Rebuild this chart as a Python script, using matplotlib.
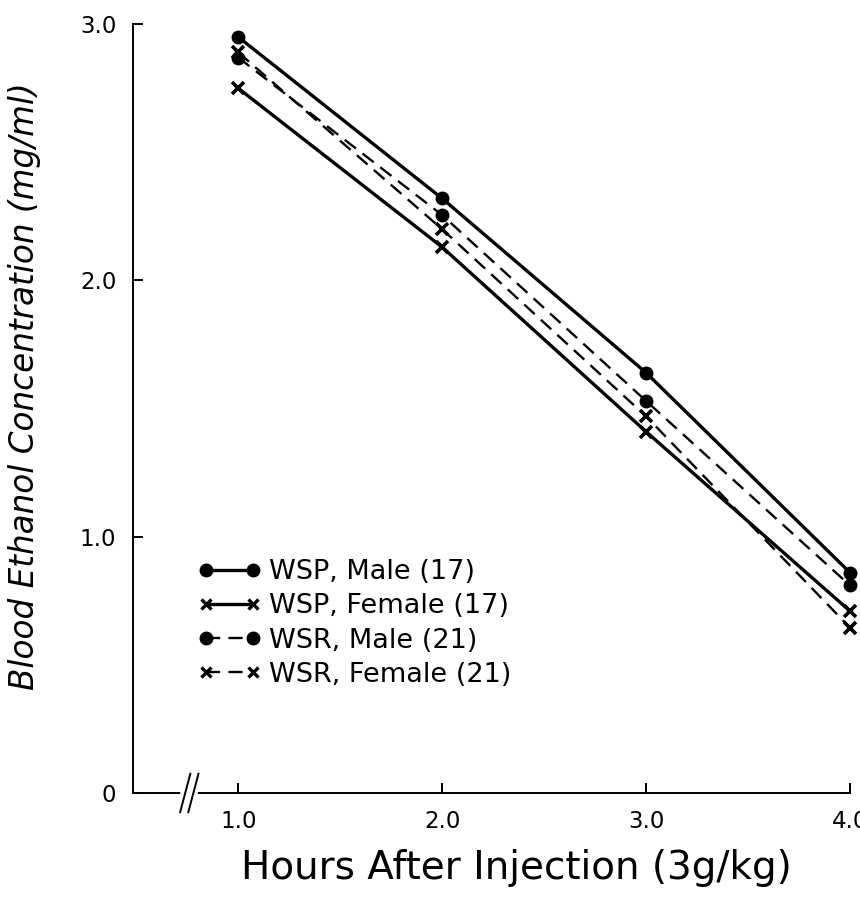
import matplotlib.pyplot as plt

hours = [1.0, 2.0, 3.0, 4.0]
wsp_male = [2.95, 2.32, 1.64, 0.86]
wsp_female = [2.75, 2.13, 1.41, 0.71]
wsr_male = [2.87, 2.255, 1.53, 0.81]
wsr_female = [2.89, 2.20, 1.47, 0.645]

labels = ['WSP, Male (17)', 'WSP, Female (17)', 'WSR, Male (21)', 'WSR, Female (21)']
yticks = [0, 1.0, 2.0, 3.0]
yticklabels = ['0', '1.0', '2.0', '3.0']
xticks = [1.0, 2.0, 3.0, 4.0]
xticklabels = ['1.0', '2.0', '3.0', '4.0']

plt.rcParams['font.family'] = ['DejaVu Sans']

fig = plt.figure(figsize=(8.6, 8.97), dpi=100)
ax = fig.add_axes([0.1547, 0.116, 0.8336, 0.857])

dash = (0, (6, 3.5))
ax.plot(hours, wsp_male, color='black', lw=2.4, marker='o', ms=9,
        label=labels[0], clip_on=False, zorder=3)
ax.plot(hours, wsp_female, color='black', lw=2.4, marker='x', ms=9, mew=2.6,
        label=labels[1], clip_on=False, zorder=3)
ax.plot(hours, wsr_male, color='black', lw=1.7, ls=dash, marker='o', ms=9,
        label=labels[2], clip_on=False, zorder=3)
ax.plot(hours, wsr_female, color='black', lw=1.7, ls=dash, marker='x', ms=9,
        mew=2.6, label=labels[3], clip_on=False, zorder=3)

ax.set_xlim(0.484, 4.0)
ax.set_ylim(0, 3.0)
ax.spines['top'].set_visible(False)
ax.spines['right'].set_visible(False)
ax.spines['left'].set_linewidth(1.4)
ax.spines['bottom'].set_linewidth(1.4)

ax.set_yticks(yticks)
ax.set_yticklabels(yticklabels)
ax.set_xticks(xticks)
ax.set_xticklabels(xticklabels)
ax.tick_params(direction='in', length=7, width=1.4, labelsize=16.5, pad=12)

# break marks on the x axis
bx = 0.76
ax.plot([bx - 0.03, bx + 0.03], [0, 0], color='white', lw=4,
        transform=ax.get_xaxis_transform(), clip_on=False, zorder=4)
for off in (-0.02, 0.02):
    ax.plot([bx + off - 0.025, bx + off + 0.025], [-0.025, 0.025], color='black', lw=1.4,
            transform=ax.get_xaxis_transform(), clip_on=False, zorder=5)

leg = ax.legend(loc='upper left', bbox_to_anchor=(0.076, 0.318), frameon=False,
                fontsize=19.5, numpoints=2, handlelength=2.3, handletextpad=0.3,
                labelspacing=0.3, borderaxespad=0)
for h in leg.legend_handles:
    if h.get_marker() == 'x':
        h.set_markersize(7)
        h.set_markeredgewidth(2.4)

fig.text(0.028, 0.57, 'Blood Ethanol Concentration (mg/ml)', rotation=90,
         ha='center', va='center', fontsize=23.5, style='italic')
fig.text(0.601, 0.032, 'Hours After Injection (3g/kg)', ha='center', va='center',
         fontsize=28)

fig.savefig('out.png', dpi=100)
